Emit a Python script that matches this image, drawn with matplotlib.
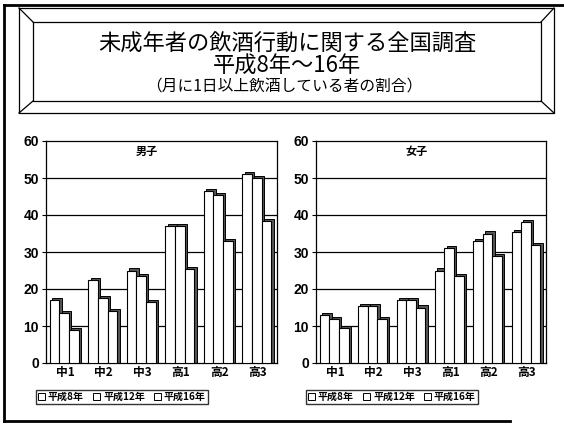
import matplotlib
matplotlib.use("Agg")
import matplotlib.pyplot as plt
from matplotlib.lines import Line2D
from matplotlib.patches import Patch
import numpy as np

plt.rcParams['font.family'] = ['Noto Sans CJK JP', 'DejaVu Sans']

categories = ["中1", "中2", "中3", "高1", "高2", "高3"]
series_names = ["平成8年", "平成12年", "平成16年"]
male_h8 = [17, 22.5, 25, 37, 46.5, 51]
male_h12 = [13.5, 17.5, 23.5, 37, 45.5, 50]
male_h16 = [9, 14, 16.5, 25.5, 33, 38.5]
female_h8 = [13, 15.5, 17, 25, 33, 35.5]
female_h12 = [12, 15.5, 17, 31, 35, 38]
female_h16 = [9.5, 12, 15, 23.5, 29, 32]
yticks = [0, 10, 20, 30, 40, 50, 60]

W, H = 564, 424
fig = plt.figure(figsize=(W / 100, H / 100), dpi=100)


def fx(x):
    return x / W


def fy(y):
    return 1 - y / H


def line(xs, ys, lw=1.0):
    fig.add_artist(Line2D([fx(x) for x in xs], [fy(y) for y in ys],
                          color='black', lw=lw, transform=fig.transFigure))


# outer frame
line([4, 4], [5, 421], lw=2)
line([4, 564], [5, 5], lw=2)
line([4, 510], [421, 421], lw=2)

# bevel title box
ox0, oy0, ox1, oy1 = 19, 8, 554, 113
ix0, iy0, ix1, iy1 = 33, 22, 541, 101
line([ox0, ox1, ox1, ox0, ox0], [oy0, oy0, oy1, oy1, oy0], lw=0.9)
line([ix0, ix1, ix1, ix0, ix0], [iy0, iy0, iy1, iy1, iy0], lw=0.9)
line([ox0, ix0], [oy0, iy0], lw=0.9)
line([ox1, ix1], [oy0, iy0], lw=0.9)
line([ox0, ix0], [oy1, iy1], lw=0.9)
line([ox1, ix1], [oy1, iy1], lw=0.9)

fig.text(fx(287), fy(44), "未成年者の飲酒行動に関する全国調査", ha='center', va='center', fontsize=16)
fig.text(fx(287), fy(66), "平成8年～16年", ha='center', va='center', fontsize=16)
fig.text(fx(284), fy(87), "（月に1日以上飲酒している者の割合）", ha='center', va='center', fontsize=11.3)


def draw_panel(rect, data, title, legend_x):
    ax = fig.add_axes(rect)
    x = np.arange(len(categories))
    offsets = [-0.275, -0.025, 0.225]
    bw = 0.25
    dx, dy = 0.06, 0.55
    for k, vals in enumerate(data):
        xs = x + offsets[k]
        # 3D shadow (top and right faces)
        ax.bar(xs + dx, np.array(vals) + dy, width=bw, color='#555555',
               edgecolor='black', linewidth=0.7, zorder=2)
        ax.bar(xs, vals, width=bw, color='white', edgecolor='black',
               linewidth=0.8, zorder=3)
    ax.set_xlim(-0.5, 5.5)
    ax.set_ylim(0, 60)
    ax.set_yticks(yticks)
    ax.set_yticklabels([str(t) for t in yticks], fontsize=10, fontweight='bold',
                       family=['Liberation Sans', 'DejaVu Sans'])
    ax.set_xticks(x)
    ax.set_xticklabels(categories, fontsize=8.5, fontweight='bold')
    ax.tick_params(axis='x', length=0, pad=2)
    ax.tick_params(axis='y', length=3, width=0.8, pad=2)
    for t in yticks[1:-1]:
        ax.axhline(t, color='black', lw=0.9, zorder=1)
    for s in ax.spines.values():
        s.set_linewidth(0.9)
    ax.text(0.437, 0.955, title, transform=ax.transAxes, ha='center', va='center',
            fontsize=8, fontweight='bold')
    handles = [Patch(facecolor='white', edgecolor='black', linewidth=0.7) for _ in series_names]
    leg = fig.legend(handles, series_names, loc='upper left',
                     bbox_to_anchor=(fx(legend_x), fy(390)), ncol=3,
                     fontsize=7.2, frameon=True, fancybox=False, edgecolor='black',
                     handlelength=0.7, handleheight=0.7, handletextpad=0.3,
                     columnspacing=0.9, borderpad=0.2, borderaxespad=0)
    for t in leg.get_texts():
        t.set_fontweight('bold')
    leg.get_frame().set_linewidth(1.0)
    return ax


draw_panel([fx(46), fy(363), 231 / W, 222 / H], [male_h8, male_h12, male_h16], "男子", 36)
draw_panel([fx(316), fy(363), 230 / W, 222 / H], [female_h8, female_h12, female_h16], "女子", 306)

fig.savefig("out.png", dpi=100)
